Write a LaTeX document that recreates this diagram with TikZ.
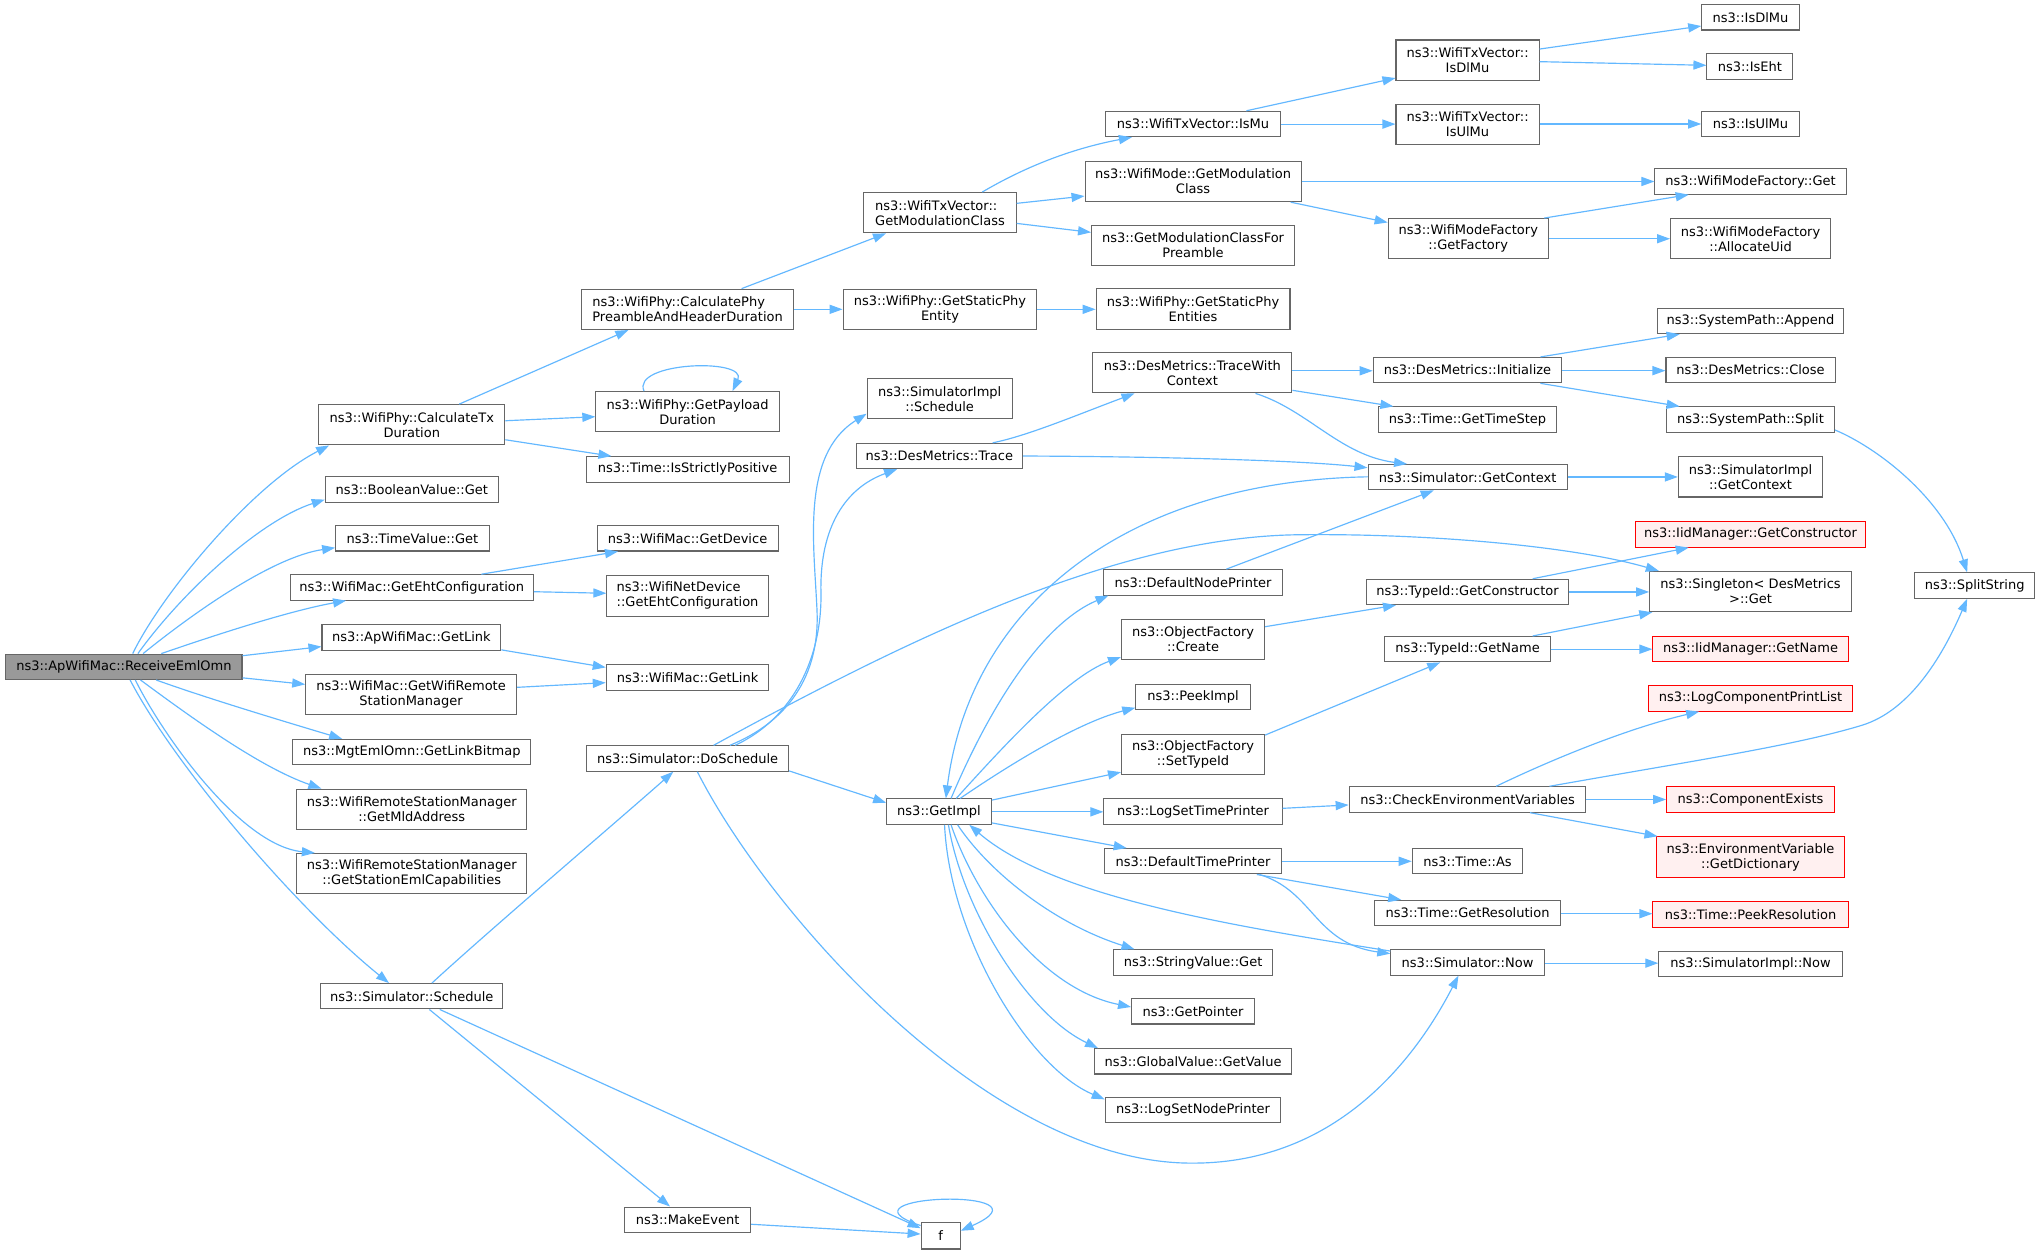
\documentclass[tikz,border=0pt]{standalone}
\usepackage{fontspec}
\setmainfont{DejaVu Sans}
\usetikzlibrary{arrows.meta,calc}
\definecolor{nodegray}{HTML}{666666}
\definecolor{rootgray}{HTML}{999999}
\definecolor{edgeblue}{HTML}{63B8FF}
\definecolor{redfill}{HTML}{FFF0F0}
\definecolor{redline}{HTML}{FF0000}
\tikzset{
  box/.style={draw=nodegray, fill=white, line width=0.8pt, inner sep=0pt, align=center,
              font=\fontsize{10}{11.5}\selectfont, text=black},
  rootbox/.style={box, fill=rootgray},
  redbox/.style={box, draw=redline, fill=redfill},
  sz/.style 2 args={minimum width=#1pt, minimum height=#2pt},
  link/.style={draw=edgeblue, line width=0.9pt, -{Triangle[length=10pt,width=7pt]}}
}
\begin{document}
\begin{tikzpicture}[x=1pt,y=-1pt]
\fill[white] (0,0) rectangle (1568,963.1);
\useasboundingbox (0,0) rectangle (1568,963.1);

% nodes
\node[rootbox, sz={181.5}{19.5}] (R) at (95.25,512.5) {ns3::ApWifiMac::ReceiveEmlOmn};
\node[box, sz={143}{31}] (calctx) at (316.5,326.5) {ns3::WifiPhy::CalculateTx\\Duration};
\node[box, sz={133}{19.5}] (boolget) at (316.5,376.25) {ns3::BooleanValue::Get};
\node[box, sz={118}{19.5}] (timevalget) at (317,413.75) {ns3::TimeValue::Get};
\node[box, sz={187}{19.5}] (getehtconf) at (316.5,451.5) {ns3::WifiMac::GetEhtConfiguration};
\node[box, sz={137.5}{19.5}] (apgetlink) at (316.25,490) {ns3::ApWifiMac::GetLink};
\node[box, sz={162}{31}] (getwrsm) at (316,534) {ns3::WifiMac::GetWifiRemote\\StationManager};
\node[box, sz={183}{19.5}] (linkbitmap) at (316.5,578) {ns3::MgtEmlOmn::GetLinkBitmap};
\node[box, sz={177}{31}] (mldaddr) at (316.5,622) {ns3::WifiRemoteStationManager\\::GetMldAddress};
\node[box, sz={177}{31}] (emlcap) at (316.5,671.5) {ns3::WifiRemoteStationManager\\::GetStationEmlCapabilities};
\node[box, sz={140}{19.5}] (sched) at (316.5,765.75) {ns3::Simulator::Schedule};

\node[box, align=left, sz={163}{31}] (preamble) at (528.5,237.75) {ns3::WifiPhy::CalculatePhy\\PreambleAndHeaderDuration};
\node[box, sz={141}{31}] (payload) at (528.5,316.5) {ns3::WifiPhy::GetPayload\\Duration};
\node[box, sz={156}{19.5}] (strictpos) at (528.5,360.75) {ns3::Time::IsStrictlyPositive};
\node[box, sz={139}{19.5}] (getdevice) at (528.5,413.75) {ns3::WifiMac::GetDevice};
\node[box, align=left, sz={124}{31}] (netdevice) at (528.5,458) {ns3::WifiNetDevice\\::GetEhtConfiguration};
\node[box, sz={125}{19.5}] (macgetlink) at (528.5,520.75) {ns3::WifiMac::GetLink};
\node[box, sz={155}{19.5}] (dosched) at (528.5,583) {ns3::Simulator::DoSchedule};
\node[box, sz={97}{19.5}] (makeevent) at (528.5,937.5) {ns3::MakeEvent};
\node[box, sz={30}{20}] (f) at (723,950) {f};

\node[box, align=left, sz={117}{31}] (getmodclass) at (722.5,163.5) {ns3::WifiTxVector::\\GetModulationClass};
\node[box, sz={149}{31}] (staticphyentity) at (722.5,237.75) {ns3::WifiPhy::GetStaticPhy\\Entity};
\node[box, sz={111.5}{31}] (simimplsched) at (722.25,306.5) {ns3::SimulatorImpl\\::Schedule};
\node[box, sz={128}{19.5}] (trace) at (722,350.5) {ns3::DesMetrics::Trace};
\node[box, sz={80.5}{19.5}] (getimpl) at (721.75,623.8) {ns3::GetImpl};

\node[box, sz={134}{19.5}] (ismu) at (917,95.3) {ns3::WifiTxVector::IsMu};
\node[box, sz={166}{31}] (modemodclass) at (917,139.5) {ns3::WifiMode::GetModulation\\Class};
\node[box, sz={156}{31}] (forpreamble) at (917,188.5) {ns3::GetModulationClassFor\\Preamble};
\node[box, sz={149}{31}] (staticphyentities) at (917,237.5) {ns3::WifiPhy::GetStaticPhy\\Entities};
\node[box, sz={153}{31}] (tracewctx) at (916.5,286.5) {ns3::DesMetrics::TraceWith\\Context};
\node[box, sz={138}{19.5}] (defnodeprinter) at (917,447.6) {ns3::DefaultNodePrinter};
\node[box, sz={110}{31}] (ofcreate) at (917,491.5) {ns3::ObjectFactory\\::Create};
\node[box, sz={88}{19.5}] (peekimpl) at (917,535.75) {ns3::PeekImpl};
\node[box, sz={110}{31}] (settypeid) at (917,580) {ns3::ObjectFactory\\::SetTypeId};
\node[box, sz={137}{19.5}] (logsettimeprinter) at (917,623.8) {ns3::LogSetTimePrinter};
\node[box, sz={136}{19.5}] (deftimeprinter) at (917,662) {ns3::DefaultTimePrinter};
\node[box, sz={122}{19.5}] (stringvalget) at (917,739.75) {ns3::StringValue::Get};
\node[box, sz={94.5}{19.5}] (getpointer) at (917,777.3) {ns3::GetPointer};
\node[box, sz={152}{19.5}] (globalval) at (917,815.75) {ns3::GlobalValue::GetValue};
\node[box, sz={135}{19.5}] (logsetnodeprinter) at (917,853) {ns3::LogSetNodePrinter};

\node[box, sz={110}{31}] (txisdlmu) at (1128,46.25) {ns3::WifiTxVector::\\IsDlMu};
\node[box, sz={110}{31}] (txisulmu) at (1128,95.5) {ns3::WifiTxVector::\\IsUlMu};
\node[box, sz={123}{31}] (getfactory) at (1128.5,183.5) {ns3::WifiModeFactory\\::GetFactory};
\node[box, sz={145}{19.5}] (initialize) at (1128,284.5) {ns3::DesMetrics::Initialize};
\node[box, sz={137}{19.5}] (gettimestep) at (1128,322.5) {ns3::Time::GetTimeStep};
\node[box, sz={153}{19.5}] (simgetcontext) at (1128,366.8) {ns3::Simulator::GetContext};
\node[box, sz={155}{19.5}] (typegetctor) at (1128,455) {ns3::TypeId::GetConstructor};
\node[box, sz={127}{19.5}] (typegetname) at (1128,499) {ns3::TypeId::GetName};
\node[box, sz={182}{19.5}] (checkenv) at (1128,614.5) {ns3::CheckEnvironmentVariables};
\node[box, sz={85}{19.5}] (timeas) at (1128,662) {ns3::Time::As};
\node[box, sz={142.5}{19.5}] (getresolution) at (1128,701.75) {ns3::Time::GetResolution};
\node[box, sz={118}{19.5}] (simnow) at (1128,739.75) {ns3::Simulator::Now};

\node[box, sz={75}{19.5}] (isdlmu) at (1345.5,13.3) {ns3::IsDlMu};
\node[box, sz={66}{19.5}] (iseht) at (1345,51) {ns3::IsEht};
\node[box, sz={75}{19.5}] (isulmu) at (1345.5,95.3) {ns3::IsUlMu};
\node[box, sz={147}{19.5}] (modefactoryget) at (1345.5,139.5) {ns3::WifiModeFactory::Get};
\node[box, sz={123}{31}] (allocuid) at (1345.5,183.5) {ns3::WifiModeFactory\\::AllocateUid};
\node[box, sz={143}{19.5}] (append) at (1345.5,246.75) {ns3::SystemPath::Append};
\node[box, sz={130}{19.5}] (dmclose) at (1345.5,284.5) {ns3::DesMetrics::Close};
\node[box, sz={129}{19.5}] (split) at (1345.5,322.5) {ns3::SystemPath::Split};
\node[box, sz={111}{31}] (simimplgetctx) at (1345.5,366.5) {ns3::SimulatorImpl\\::GetContext};
\node[redbox, sz={177}{19.5}] (iidgetctor) at (1345.5,410.75) {ns3::IidManager::GetConstructor};
\node[box, sz={155}{31}] (singleton) at (1345.5,454.7) {ns3::Singleton< DesMetrics\\>::Get};
\node[redbox, sz={150}{19.5}] (iidgetname) at (1345.5,499) {ns3::IidManager::GetName};
\node[redbox, sz={157}{19.5}] (logcomp) at (1345.5,536.8) {ns3::LogComponentPrintList};
\node[redbox, sz={129}{19.5}] (compexists) at (1345.5,614.5) {ns3::ComponentExists};
\node[redbox, sz={145}{31}] (envdict) at (1345.5,658.7) {ns3::EnvironmentVariable\\::GetDictionary};
\node[redbox, sz={150}{19.5}] (peekres) at (1345.5,702.8) {ns3::Time::PeekResolution};
\node[box, sz={141}{19.5}] (simimplnow) at (1345.5,740.85) {ns3::SimulatorImpl::Now};
\node[box, sz={92.3}{19.5}] (splitstring) at (1517.75,450.1) {ns3::SplitString};

% edges from the root
\draw[link] (R.north -| 102,0) .. controls (125,455) and (195,372) .. (calctx.south -| 253,0);
\draw[link] (R.north -| 106,0) .. controls (140,455) and (200,400) .. (boolget.west |- 0,384);
\draw[link] (R.north -| 110,0) .. controls (150,470) and (210,428) .. (timevalget.west |- 0,421);
\draw[link] (R.north -| 124,0) .. controls (160,490) and (220,470) .. (getehtconf.south -| 266,0);
\draw[link] (R.east |- 0,504) -- (apgetlink.west |- 0,497);
\draw[link] (R.east |- 0,521) -- (getwrsm.west |- 0,526);
\draw[link] (R.south -| 120,0) .. controls (160,537) and (220,555) .. (linkbitmap.north -| 263,0);
\draw[link] (R.south -| 108,0) .. controls (145,550) and (200,590) .. (mldaddr.north -| 247,0);
\draw[link] (R.south -| 104,0) .. controls (125,565) and (185,650) .. (emlcap.north -| 242,0);
\draw[link] (R.south -| 100,0) .. controls (135,590) and (230,700) .. (sched.north -| 299,0);

% second column
\draw[link] (calctx.north -| 353,0) -- (preamble.south -| 483,0);
\draw[link] (calctx.east |- 0,323.4) -- (payload.west |- 0,320.3);
\draw[link] (calctx.east |- 0,338) -- (strictpos.north -| 470,0);
\draw[link] (payload.north -| 495,0) .. controls (485,278) and (575,275) .. (payload.north -| 563,0);
\draw[link] (getehtconf.north -| 370,0) -- (getdevice.south -| 475,0);
\draw[link] (getehtconf.east |- 0,454.8) -- (netdevice.west |- 0,456);
\draw[link] (apgetlink.east |- 0,499.5) -- (macgetlink.west |- 0,513);
\draw[link] (getwrsm.east |- 0,528.3) -- (macgetlink.west |- 0,524.7);
\draw[link] (sched.north -| 332,0) .. controls (375,716) and (470,635) .. (dosched.south -| 517.5,0);
\draw[link] (sched.south -| 330,0) -- (makeevent.north -| 515,0);
\draw[link] (sched.south -| 338,0) -- (f.west |- 0,944);
\draw[link] (makeevent.east |- 0,941) -- (f.west |- 0,948.5);
\draw[link] (f.west |- 0,942) .. controls (635,918) and (815,912) .. (f.east |- 0,946);

% modulation branch
\draw[link] (preamble.north -| 570,0) -- (getmodclass.south -| 681,0);
\draw[link] (preamble.east) -- (staticphyentity.west);
\draw[link] (staticphyentity.east) -- (staticphyentities.west |- 0,237.75);
\draw[link] (getmodclass.north -| 755,0) .. controls (785,130) and (820,115) .. (ismu.south -| 870,0);
\draw[link] (getmodclass.east |- 0,156.3) -- (modemodclass.west |- 0,150.7);
\draw[link] (getmodclass.east |- 0,171.7) -- (forpreamble.west |- 0,178.6);
\draw[link] (ismu.north -| 958,0) -- (txisdlmu.west |- 0,60);
\draw[link] (ismu.east |- 0,95.4) -- (txisulmu.west |- 0,95.4);
\draw[link] (txisdlmu.east |- 0,37.7) -- (isdlmu.west |- 0,20);
\draw[link] (txisdlmu.east |- 0,47.4) -- (iseht.west |- 0,50.2);
\draw[link] (txisulmu.east |- 0,95.3) -- (isulmu.west |- 0,95.3);
\draw[link] (modemodclass.east |- 0,139.5) -- (modefactoryget.west |- 0,139.5);
\draw[link] (modemodclass.south -| 992,0) -- (getfactory.west |- 0,171);
\draw[link] (getfactory.north -| 1187,0) -- (modefactoryget.south -| 1298,0);
\draw[link] (getfactory.east |- 0,183.5) -- (allocuid.west |- 0,183.5);

% DoSchedule
\draw[link] (dosched.north -| 561,0) .. controls (605,555) and (630,520) .. (628,470) .. controls (626,420) and (615,350) .. (simimplsched.west |- 0,318);
\draw[link] (dosched.north -| 565,0) .. controls (610,552) and (632,505) .. (631,455) .. controls (630,405) and (650,375) .. (trace.south -| 689.5,0);
\draw[link] (dosched.north -| 548.5,0) .. controls (700,490) and (860,412) .. (1000,411) .. controls (1100,410) and (1210,420) .. (singleton.north -| 1275,0);
\draw[link] (dosched.east |- 0,592.5) -- (getimpl.west |- 0,617);
\draw[link] (dosched.south -| 536,0) .. controls (590,700) and (760,895) .. (917,894) .. controls (1030,894) and (1090,810) .. (simnow.south -| 1121,0);

% trace
\draw[link] (trace.north -| 763,0) .. controls (790,335) and (830,318) .. (tracewctx.south -| 872,0);
\draw[link] (trace.east |- 0,350.5) .. controls (900,351) and (1000,354) .. (simgetcontext.west |- 0,359.5);
\draw[link] (tracewctx.east |- 0,285) -- (initialize.west |- 0,285);
\draw[link] (tracewctx.east |- 0,300) -- (gettimestep.north -| 1071,0);
\draw[link] (tracewctx.south -| 965,0) .. controls (1005,315) and (1030,350) .. (simgetcontext.north -| 1081.5,0);
\draw[link] (initialize.north -| 1184,0) -- (append.south -| 1291,0);
\draw[link] (initialize.east |- 0,284.9) -- (dmclose.west |- 0,284.9);
\draw[link] (initialize.south -| 1184,0) -- (split.north -| 1291,0);
\draw[link] (split.east |- 0,330.5) .. controls (1445,345) and (1495,385) .. (splitstring.north -| 1512,0);
\draw[link] (simgetcontext.east |- 0,366.6) -- (simimplgetctx.west |- 0,366.6);
\draw[link] (simgetcontext.west |- 0,366.5) .. controls (860,370) and (745,470) .. (getimpl.north -| 727,0);
\draw[link] (defnodeprinter.north -| 942.6,0) -- (simgetcontext.south -| 1102,0);

% GetImpl
\draw[link] (getimpl.north -| 731,0) .. controls (760,545) and (800,480) .. (defnodeprinter.south -| 852,0);
\draw[link] (getimpl.north -| 735,0) .. controls (770,575) and (820,520) .. (ofcreate.west |- 0,505);
\draw[link] (getimpl.north -| 738,0) .. controls (780,585) and (830,555) .. (peekimpl.west |- 0,544);
\draw[link] (getimpl.east |- 0,615) -- (settypeid.west |- 0,593.5);
\draw[link] (getimpl.east |- 0,624) -- (logsettimeprinter.west |- 0,624);
\draw[link] (getimpl.east |- 0,632.5) -- (deftimeprinter.north -| 866,0);
\draw[link] (getimpl.south -| 736,0) .. controls (760,670) and (810,710) .. (stringvalget.north -| 872,0);
\draw[link] (getimpl.south -| 731,0) .. controls (750,690) and (800,760) .. (getpointer.west |- 0,774);
\draw[link] (getimpl.south -| 729,0) .. controls (740,700) and (790,780) .. (globalval.north -| 844,0);
\draw[link] (getimpl.south -| 726,0) .. controls (730,720) and (790,820) .. (logsetnodeprinter.west |- 0,845);
\draw[link] (simnow.west |- 0,731) .. controls (950,712) and (810,690) .. (getimpl.south -| 745,0);

% type ids
\draw[link] (ofcreate.east |- 0,481.7) -- (typegetctor.south -| 1073,0);
\draw[link] (settypeid.east |- 0,565) -- (typegetname.south -| 1107,0);
\draw[link] (typegetctor.north -| 1178,0) -- (iidgetctor.south -| 1298,0);
\draw[link] (typegetctor.east |- 0,455) -- (singleton.west |- 0,455);
\draw[link] (typegetname.north -| 1178,0) -- (singleton.south -| 1270,0);
\draw[link] (typegetname.east |- 0,499) -- (iidgetname.west |- 0,499);

% environment / time
\draw[link] (logsettimeprinter.east |- 0,621.3) -- (checkenv.west |- 0,618.7);
\draw[link] (checkenv.north -| 1150,0) .. controls (1190,585) and (1250,560) .. (logcomp.south -| 1306,0);
\draw[link] (checkenv.north -| 1191,0) .. controls (1300,585) and (1380,573) .. (1431,557.5) .. controls (1470,545.6) and (1495,500) .. (splitstring.south -| 1512,0);
\draw[link] (checkenv.east |- 0,614.5) -- (compexists.west |- 0,614.5);
\draw[link] (checkenv.south -| 1176,0) -- (envdict.north -| 1274,0);
\draw[link] (deftimeprinter.east |- 0,662) -- (timeas.west |- 0,662);
\draw[link] (deftimeprinter.south -| 966,0) -- (getresolution.north -| 1077,0);
\draw[link] (deftimeprinter.south -| 968,0) .. controls (1010,685) and (1010,725) .. (simnow.west |- 0,733);
\draw[link] (getresolution.east |- 0,702.3) -- (peekres.west |- 0,702.3);
\draw[link] (simnow.east |- 0,740.3) -- (simimplnow.west |- 0,740.3);
\end{tikzpicture}
\end{document}
